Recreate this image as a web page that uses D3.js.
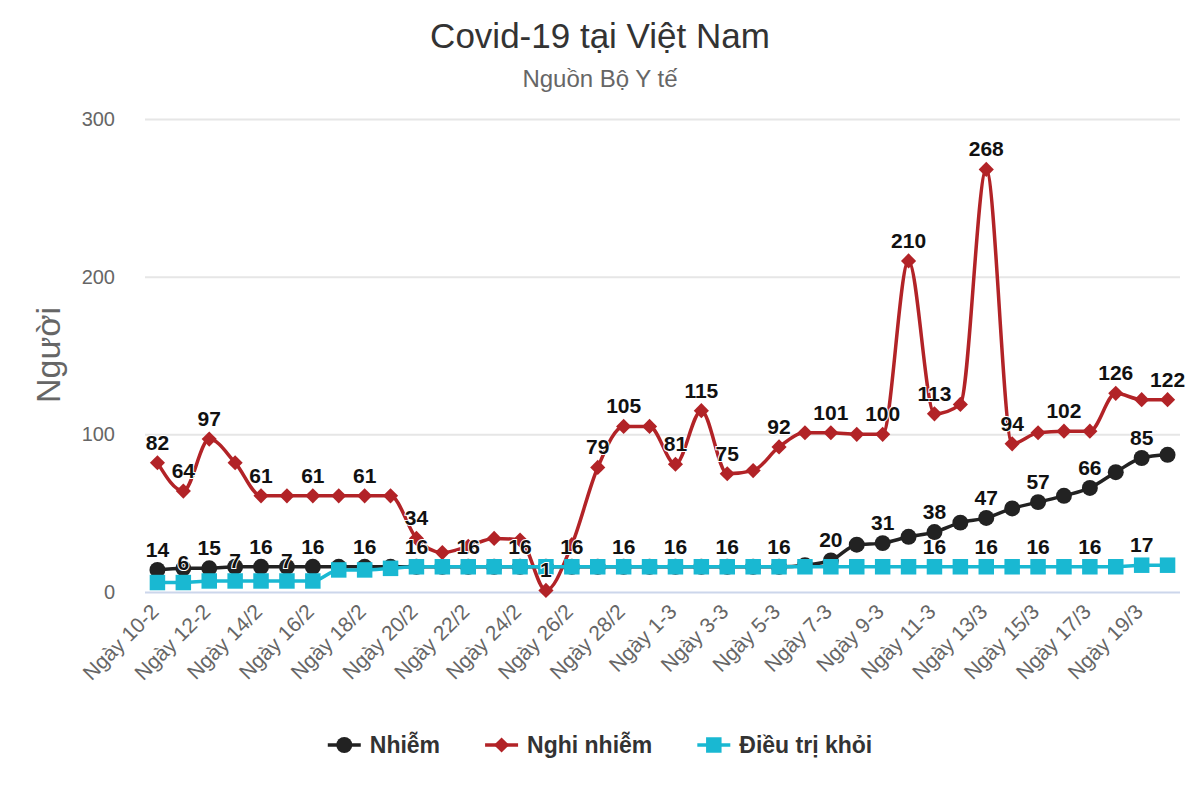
<!DOCTYPE html>
<html>
<head>
<meta charset="utf-8">
<script src="https://cdn.jsdelivr.net/npm/d3@7"></script>
<style>
  body { margin: 0; background: #fff; }
  text { font-family: "Liberation Sans", Arial, sans-serif; }
</style>
</head>
<body>
<svg id="chart" width="1200" height="800"></svg>
<script>
// categories: 10/2 -> 20/3 (2020)
var days = ['Ngày 10-2', 'Ngày 11-2', 'Ngày 12-2', 'Ngày 13/2', 'Ngày 14/2', 'Ngày 15/2', 'Ngày 16/2', 'Ngày 17/2', 'Ngày 18/2', 'Ngày 19/2',
  'Ngày 20/2', 'Ngày 21/2', 'Ngày 22/2', 'Ngày 23/2', 'Ngày 24/2', 'Ngày 25/2', 'Ngày 26/2', 'Ngày 27/2', 'Ngày 28/2', 'Ngày 29/2',
  'Ngày 1-3', 'Ngày 2-3', 'Ngày 3-3', 'Ngày 4-3', 'Ngày 5-3', 'Ngày 6-3', 'Ngày 7-3', 'Ngày 8-3', 'Ngày 9-3', 'Ngày 10-3',
  'Ngày 11-3', 'Ngày 12-3', 'Ngày 13/3', 'Ngày 14/3', 'Ngày 15/3', 'Ngày 16/3', 'Ngày 17/3', 'Ngày 18/3', 'Ngày 19/3', 'Ngày 20/3']

var nhiem = [14, 15, 15, 16, 16, 16, 16, 16, 16, 16,
  16, 16, 16, 16, 16, 16, 16, 16, 16, 16,
  16, 16, 16, 16, 16, 17, 20, 30, 31, 35,
  38, 44, 47, 53, 57, 61, 66, 76, 85, 87]

var nghiNhiem = [82, 64, 97, 82, 61, 61, 61, 61, 61, 61,
  34, 25, 29, 34, 33, 1, 30, 79, 105, 105,
  81, 115, 75, 77, 92, 101, 101, 100, 100, 210,
  113, 119, 268, 94, 101, 102, 102, 126, 122, 122]

var dieuTri = [6, 6, 7, 7, 7, 7, 7, 14, 14, 15,
  16, 16, 16, 16, 16, 16, 16, 16, 16, 16,
  16, 16, 16, 16, 16, 16, 16, 16, 16, 16,
  16, 16, 16, 16, 16, 16, 16, 16, 17, 17]

// which points carry a visible data label
var nhiemLabels = [0, 2, 4, 6, 8, 10, 12, 14, 26, 28, 30, 32, 34, 36, 38]
var nghiLabels = [0, 1, 2, 4, 6, 8, 10, 15, 17, 18, 20, 21, 22, 24, 26, 28, 29, 30, 32, 33, 35, 37, 39]
var dieuTriLabels = [1, 3, 5, 16, 18, 20, 22, 24, 30, 32, 34, 36, 38]

var yTicks = [0, 100, 200, 300]

// diamond = square turned 45 degrees
var series = [
  { name: 'Nhiễm', values: nhiem, labels: nhiemLabels, color: '#222222', marker: d3.symbolCircle, size: 200, rot: 0 },
  { name: 'Nghi nhiễm', values: nghiNhiem, labels: nghiLabels, color: '#b22327', marker: d3.symbolSquare, size: 115, rot: 45 },
  { name: 'Điều trị khỏi', values: dieuTri, labels: dieuTriLabels, color: '#19b8d2', marker: d3.symbolSquare, size: 240, rot: 0 }
]

var svg = d3.select('#chart')
var plotLeft = 145, plotRight = 1180, plotTop = 119, plotBottom = 592

var x = d3.scalePoint().domain(days).range([plotLeft, plotRight]).padding(0.48)
var y = d3.scaleLinear().domain([0, 300]).range([plotBottom, plotTop])

// title
svg.append('text').attr('x', 600).attr('y', 48).attr('text-anchor', 'middle')
  .attr('font-size', 35).attr('fill', '#333').text('Covid-19 tại Việt Nam')
svg.append('text').attr('x', 600).attr('y', 87).attr('text-anchor', 'middle')
  .attr('font-size', 24).attr('fill', '#666').text('Nguồn Bộ Y tế')

// grid + y axis
var yAxis = svg.append('g').attr('transform', 'translate(' + plotLeft + ',0)')
  .call(d3.axisLeft(y).tickValues(yTicks).tickSize(-(plotRight - plotLeft)).tickPadding(30))
yAxis.select('.domain').remove()
yAxis.selectAll('.tick line').attr('stroke', function(d) { return d === 0 ? '#ccd6eb' : '#e6e6e6' }).attr('stroke-width', 2)
yAxis.selectAll('.tick text').attr('font-size', 20).attr('fill', '#666')

svg.append('text').attr('transform', 'translate(60,355) rotate(-90)').attr('text-anchor', 'middle')
  .attr('font-size', 34).attr('fill', '#666').text('Người')

// x axis labels (every second day)
var xAxis = svg.append('g').attr('transform', 'translate(0,' + plotBottom + ')')
  .call(d3.axisBottom(x).tickValues(days.filter(function(d, i) { return i % 2 === 0 })).tickSize(0).tickPadding(0))
xAxis.select('.domain').remove()
xAxis.selectAll('.tick text')
  .attr('font-size', 21).attr('fill', '#666')
  .attr('text-anchor', 'end')
  .attr('dy', null).attr('y', 0)
  .attr('transform', 'translate(2,21) rotate(-45)')

// lines and markers
var line = d3.line()
  .x(function(d, i) { return x(days[i]) })
  .y(function(d) { return y(d) })
  .curve(d3.curveMonotoneX)

series.forEach(function(s) {
  var g = svg.append('g')
  g.append('path').datum(s.values)
    .attr('d', line)
    .attr('fill', 'none')
    .attr('stroke', s.color)
    .attr('stroke-width', 3.5)
  g.selectAll('path.pt').data(s.values).enter().append('path')
    .attr('class', 'pt')
    .attr('d', d3.symbol().type(s.marker).size(s.size))
    .attr('transform', function(d, i) { return 'translate(' + x(days[i]) + ',' + y(d) + ') rotate(' + s.rot + ')' })
    .attr('fill', s.color)
})

// data labels on top
series.forEach(function(s) {
  svg.append('g').selectAll('text').data(s.labels).enter().append('text')
    .attr('x', function(i) { return x(days[i]) })
    .attr('y', function(i) { return y(s.values[i]) - 13 })
    .attr('text-anchor', 'middle')
    .attr('font-size', 21).attr('font-weight', 'bold')
    .attr('fill', '#111')
    .attr('stroke', '#fff').attr('stroke-width', 2).attr('paint-order', 'stroke')
    .text(function(i) { return s.values[i] })
})

// legend
var legend = svg.append('g')
var lx = 0
series.forEach(function(s) {
  var item = legend.append('g').attr('transform', 'translate(' + lx + ',0)')
  item.append('line').attr('x1', 0).attr('x2', 33).attr('y1', 0).attr('y2', 0)
    .attr('stroke', s.color).attr('stroke-width', 3.5)
  item.append('path').attr('d', d3.symbol().type(s.marker).size(s.size))
    .attr('transform', 'translate(16.5,0) rotate(' + s.rot + ')').attr('fill', s.color)
  var t = item.append('text').attr('x', 42).attr('y', 8)
    .attr('font-size', 23).attr('font-weight', 'bold').attr('fill', '#333')
    .text(s.name)
  lx += 42 + t.node().getComputedTextLength() + 45
})
var lw = lx - 45
legend.attr('transform', 'translate(' + (600 - lw / 2) + ',745)')
</script>
</body>
</html>
